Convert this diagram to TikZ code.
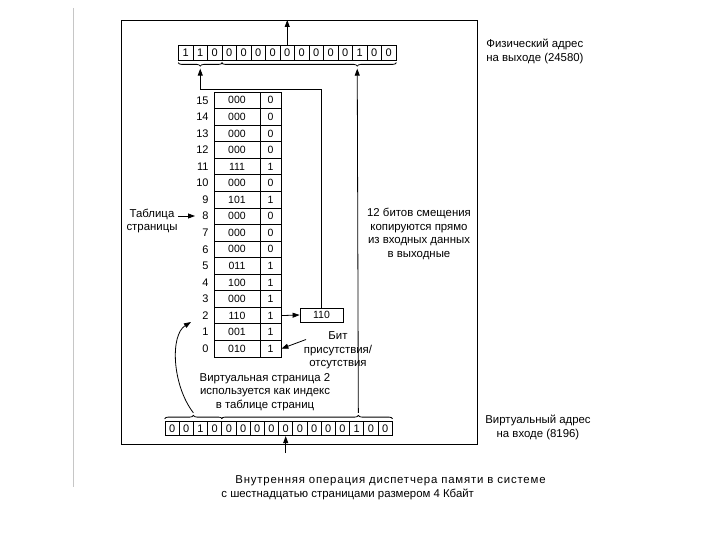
\documentclass[tikz,border=0pt]{standalone}
\usepackage{fontspec}
\setmainfont{Liberation Sans}
\usetikzlibrary{decorations.pathreplacing,arrows.meta}
\begin{document}
\begin{tikzpicture}[x=1pt,y=-1pt,line width=0.8pt,
  cell/.style={draw,minimum height=14.5pt,inner sep=0pt,font=\fontsize{11}{11}\selectfont},
  tcell/.style={draw,minimum height=16.56pt,inner sep=0pt,font=\fontsize{10.5}{10.5}\selectfont},
  lbl/.style={font=\fontsize{11.4}{13.4}\selectfont,align=center,inner sep=0pt},
  arr/.style={-{Triangle[length=7pt,width=5pt]}},
  brc/.style={decorate,decoration={brace,amplitude=3.5pt}},
]
\useasboundingbox (0,0) rectangle (720,540);
\draw[gray!45,line width=0.6pt] (73,8) -- (73,487);
% outer frame
\node[draw,anchor=north west,minimum width=356pt,minimum height=424pt,inner sep=0pt] (frame) at (121,20) {};
% top register (physical address)
\foreach \b [count=\i] in {1,1,0,0,0,0,0,0,0,0,0,0,1,0,0}
  \node[cell,minimum width=14.5pt] (t\i) at ({178.5+14.5*(\i-0.5)},53) {\b};
% bottom register (virtual address)
\foreach \b [count=\i] in {0,0,1,0,0,0,0,0,0,0,0,0,0,1,0,0}
  \node[cell,minimum width=14.2pt] (b\i) at ({165+14.2*(\i-0.5)},428.5) {\b};
% braces
\draw[brc,decoration={mirror}] ([yshift=-2pt]t1.south west) -- ([yshift=-2pt]t3.south east) coordinate[midway,yshift=-6pt] (tA);
\draw[brc,decoration={mirror,aspect=0.776}] ([yshift=-2pt]t4.south west) -- ([yshift=-2pt]t15.south east) coordinate[pos=0.776,yshift=-6pt] (tB);
\draw[brc] ([yshift=2pt]b1.north west) -- ([yshift=2pt]b4.north east) coordinate[midway,yshift=6pt] (bA);
\draw[brc,decoration={aspect=0.8}] ([yshift=2pt]b5.north west) -- ([yshift=2pt]b16.north east) coordinate[pos=0.8,yshift=6pt] (bB);
% in / out arrows
\coordinate (ftop) at (t8.north |- frame.north);
\coordinate (fbot) at (b9.south |- 0,453);
\draw[arr] (t8.north) -- (ftop);
\draw[arr] (fbot) -- (b9.south);
% page table
\foreach \f/\p [count=\k from 0] in {000/0,000/0,000/0,000/0,111/1,000/0,101/1,000/0,000/0,000/0,011/1,100/1,000/1,110/1,001/1,010/1}{
  \pgfmathtruncatemacro{\r}{15-\k}
  \node[tcell,minimum width=46pt] (f\r) at (237,{100.28+16.56*\k}) {\f};
  \node[tcell,minimum width=21pt] (p\r) at (270.5,{100.28+16.56*\k}) {\p};
  \node[anchor=east,inner sep=0pt,font=\fontsize{11}{11}\selectfont] (n\r) at (209,{100.28+16.56*\k}) {\r};
}
% page frame box
\node[draw,minimum width=43pt,minimum height=14pt,inner sep=0pt,font=\fontsize{10.5}{10.5}\selectfont] (pf) at (321.5,315) {110};
\draw[arr] (p2.east) -- (pf.west);
\draw[arr] (pf.north) -- (pf.north |- 0,89) -| (tA);
\draw[arr] (bB) -- (tB);
% labels
\node[lbl,anchor=west,align=left] (lphys) at (486,51.5) {Физический адрес\\на выходе (24580)};
\node[lbl] (loff) at (419,234) {12 битов смещения\\копируются прямо\\из входных данных\\в выходные};
\node[lbl] (lvirt) at (538,427.5) {Виртуальный адрес\\на входе (8196)};
\node[lbl] (lvp) at (265,392) {Виртуальная страница 2\\используется как индекс\\в таблице страниц};
\node[lbl] (ltab) at (152,221) {Таблица\\страницы};
\coordinate (tabA) at (178,216);
\coordinate (tabB) at (195,216);
\draw[arr] (tabA) -- (tabB);
\node[lbl] (lbit) at (338,350.5) {Бит\\присутствия/\\отсутствия};
\coordinate (bitA) at (306,339.5);
\draw[arr] (bitA) -- (p0.east);
\coordinate (vpEnd) at (191,322);
\draw[arr] (bA) .. controls (172,385) and (170,335) .. (vpEnd);
\node[lbl,anchor=west] (cap1) at (235,481) {\addfontfeature{LetterSpace=7}Внутренняя операция диспетчера памяти в системе};
\node[lbl,anchor=west] (cap2) at (221,494) {с шестнадцатью страницами размером 4 Кбайт};
\end{tikzpicture}
\end{document}
